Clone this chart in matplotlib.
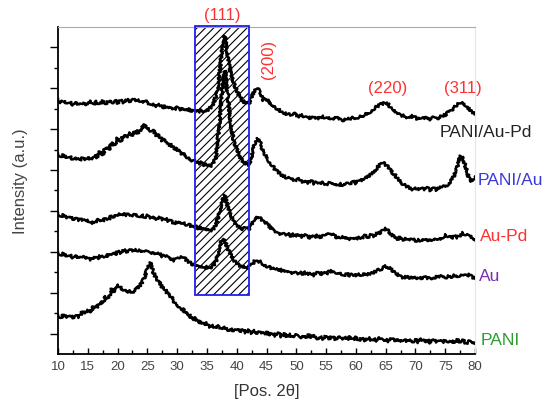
import matplotlib
matplotlib.use('Agg')
import matplotlib.pyplot as plt
import matplotlib.patches as mpatches
from matplotlib.ticker import MultipleLocator, FixedLocator
import numpy as np

plt.rcParams['font.family'] = ['Liberation Sans', 'DejaVu Sans']
plt.rcParams['hatch.linewidth'] = 0.8

# 2theta sampling (0.5 deg steps)
two_theta = np.arange(10, 80.01, 0.5)

# stacked XRD patterns, offset intensities (a.u.)
pani = [9.5, 9.0, 9.6, 9.1, 9.4, 8.9, 9.5, 9.0, 10.1, 10.0,
        10.7, 10.4, 11.7, 11.3, 12.7, 12.4, 14.1, 13.6, 15.9, 15.2,
        17.0, 16.2, 15.8, 15.0, 15.6, 15.0, 15.8, 16.2, 17.3, 18.7,
        21.0, 22.3, 20.0, 18.4, 17.8, 16.2, 15.7, 14.5, 14.1, 12.8,
        12.2, 11.1, 10.9, 9.8, 9.6, 8.6, 8.7, 7.7, 8.0, 7.1,
        7.5, 6.6, 7.0, 6.2, 6.8, 6.0, 6.5, 5.8, 6.3, 5.6,
        6.1, 5.5, 5.9, 5.3, 5.8, 5.1, 5.7, 5.0, 5.6, 4.9,
        5.3, 4.6, 5.1, 4.5, 5.0, 4.3, 4.9, 4.2, 4.8, 4.1,
        4.6, 4.0, 4.5, 3.9, 4.6, 4.2, 4.4, 3.8, 4.3, 3.7,
        4.4, 3.8, 4.3, 3.6, 4.2, 3.7, 4.1, 3.5, 4.2, 3.6,
        4.0, 3.4, 3.9, 3.3, 4.0, 3.4, 3.8, 3.2, 3.9, 3.3,
        3.7, 3.1, 3.8, 3.2, 3.7, 3.0, 3.6, 3.1, 3.7, 3.0,
        3.5, 2.9, 3.6, 3.0, 3.4, 2.8, 3.5, 2.9, 3.3, 2.7,
        3.4, 2.8, 3.2, 2.6, 3.5, 2.7, 3.3, 2.6, 3.1, 2.5,
        2.8]

au = [24.9, 24.3, 24.6, 23.9, 24.2, 23.6, 24.0, 23.4, 23.9, 23.3,
      23.6, 23.1, 23.8, 23.3, 24.0, 23.6, 24.2, 24.0, 24.7, 24.3,
      25.1, 24.8, 25.5, 25.0, 25.6, 25.1, 25.7, 25.2, 25.4, 24.9,
      25.3, 24.8, 24.9, 24.4, 24.5, 23.9, 24.1, 23.5, 23.4, 22.9,
      23.3, 23.6, 23.8, 23.0, 22.5, 22.0, 21.8, 21.3, 21.6, 21.0,
      21.3, 20.9, 21.5, 22.6, 25.6, 28.0, 27.6, 25.8, 24.2, 23.0,
      22.1, 21.6, 21.4, 21.1, 21.3, 21.7, 22.7, 22.6, 22.6, 21.9,
      21.5, 21.3, 20.8, 20.9, 20.4, 20.6, 20.1, 20.3, 19.8, 20.1,
      19.7, 20.0, 19.6, 19.9, 19.4, 19.7, 19.3, 19.8, 19.5, 19.9,
      19.6, 20.2, 20.4, 19.8, 19.4, 19.7, 19.3, 19.6, 19.2, 19.5,
      19.1, 19.6, 19.3, 19.7, 19.4, 19.9, 20.0, 20.4, 20.6, 21.0,
      21.5, 21.1, 20.6, 19.9, 19.5, 18.9, 18.7, 19.0, 18.6, 18.9,
      18.4, 18.8, 18.5, 18.9, 18.4, 18.7, 18.5, 18.9, 18.8, 19.1,
      18.7, 19.0, 18.8, 19.2, 19.0, 19.3, 19.6, 19.1, 19.4, 18.8,
      18.4]

au_pd = [34.4, 33.8, 34.0, 33.4, 33.6, 33.0, 33.3, 32.7, 33.0, 32.4,
         32.6, 32.0, 32.3, 32.6, 32.9, 32.5, 33.3, 33.0, 33.8, 33.5,
         34.3, 33.9, 34.5, 34.0, 34.2, 33.7, 34.2, 33.6, 34.0, 33.5,
         33.8, 33.3, 33.6, 33.0, 33.4, 32.8, 33.1, 32.6, 32.5, 32.0,
         32.3, 31.8, 32.1, 31.6, 31.6, 31.1, 31.3, 30.8, 30.9, 30.4,
         30.7, 30.2, 30.5, 31.4, 34.1, 37.3, 38.8, 35.9, 33.9, 32.4,
         31.5, 30.9, 30.6, 30.8, 30.4, 31.7, 33.2, 33.6, 33.2, 32.3,
         32.0, 31.2, 30.5, 30.0, 29.4, 29.6, 29.2, 29.5, 28.9, 29.2,
         28.8, 29.2, 28.7, 29.0, 28.4, 28.8, 28.6, 29.0, 28.6, 29.1,
         28.9, 29.6, 29.4, 28.8, 28.3, 28.7, 28.3, 28.6, 28.1, 28.5,
         28.2, 28.6, 28.4, 28.9, 28.6, 29.1, 28.9, 29.4, 29.6, 30.2,
         30.7, 30.0, 29.2, 28.7, 28.2, 28.5, 28.0, 28.3, 27.8, 28.1,
         27.7, 28.0, 27.6, 28.0, 27.7, 28.1, 27.8, 28.2, 28.0, 28.4,
         29.3, 28.8, 28.4, 28.8, 28.5, 29.0, 29.6, 29.1, 29.0, 28.3,
         27.8]

pani_au = [49.0, 48.4, 48.7, 48.0, 48.3, 47.6, 47.9, 47.4, 47.8, 47.5,
           48.1, 47.6, 48.5, 48.2, 49.4, 48.8, 50.6, 49.9, 51.8, 51.0,
           52.8, 52.0, 53.6, 52.9, 54.2, 53.3, 54.7, 53.9, 55.3, 56.0,
           55.2, 54.6, 54.6, 53.5, 53.4, 52.2, 52.4, 51.3, 51.1, 50.2,
           50.1, 49.2, 49.0, 48.3, 48.0, 47.3, 47.3, 46.6, 46.8, 46.2,
           46.4, 45.9, 46.5, 48.0, 54.6, 64.4, 69.3, 63.2, 55.9, 52.0,
           50.2, 48.3, 47.2, 46.7, 46.2, 48.4, 51.5, 52.7, 51.5, 49.2,
           48.2, 47.0, 46.1, 45.0, 44.4, 43.8, 43.4, 43.1, 42.9, 42.5,
           42.4, 42.8, 42.0, 42.3, 41.9, 42.3, 41.7, 42.0, 41.5, 41.9,
           41.5, 41.8, 41.4, 41.7, 41.2, 41.6, 41.2, 41.7, 41.7, 42.2,
           41.8, 42.6, 42.4, 43.2, 43.4, 44.1, 44.6, 45.4, 46.3, 46.8,
           46.3, 45.6, 44.6, 43.9, 42.9, 42.0, 41.5, 40.9, 40.7, 40.3,
           40.5, 40.1, 40.5, 40.2, 40.6, 40.1, 40.5, 40.2, 40.6, 40.8,
           41.0, 41.6, 42.4, 43.6, 45.6, 48.5, 47.8, 45.4, 42.9, 42.2,
           43.4]

pani_au_pd = [62.4, 61.6, 61.9, 61.3, 61.6, 61.0, 61.5, 60.9, 61.4, 60.8,
              61.3, 61.8, 61.2, 61.7, 61.2, 61.8, 61.3, 61.9, 61.4, 62.0,
              61.5, 62.1, 61.6, 62.3, 61.8, 62.4, 61.9, 62.3, 61.6, 62.1,
              61.4, 61.0, 61.2, 60.6, 60.9, 60.3, 60.6, 60.0, 60.4, 59.9,
              60.3, 59.7, 60.1, 59.5, 59.9, 59.3, 59.7, 59.2, 59.6, 59.4,
              59.6, 60.2, 60.7, 63.2, 66.8, 74.1, 77.8, 72.9, 68.8, 66.3,
              64.4, 62.9, 62.0, 61.3, 61.0, 63.0, 64.6, 64.9, 63.9, 62.0,
              62.4, 61.4, 61.0, 60.2, 59.8, 59.3, 59.0, 58.6, 58.5, 58.9,
              58.5, 58.1, 58.4, 57.9, 58.0, 57.6, 58.1, 57.7, 57.8, 58.2,
              57.6, 57.9, 57.4, 57.9, 57.6, 57.2, 57.3, 57.7, 57.3, 57.8,
              57.6, 58.1, 58.0, 58.6, 58.8, 59.4, 60.0, 60.5, 61.0, 61.2,
              61.5, 61.0, 59.8, 59.3, 58.8, 58.2, 58.3, 57.8, 57.8, 58.2,
              57.8, 57.4, 57.8, 57.5, 57.9, 57.4, 57.8, 57.5, 57.9, 58.3,
              58.5, 59.1, 59.5, 60.3, 61.0, 61.5, 61.2, 60.7, 60.0, 59.3,
              58.8]

series = [pani, au, au_pd, pani_au, pani_au_pd]
names = ['PANI', 'Au', 'Au-Pd', 'PANI/Au', 'PANI/Au-Pd']
name_colors = ['#2e9e2e', '#7a2fa6', '#ff3030', '#3a3ad8', '#222222']
# label anchor (2theta, a.u.)
name_pos = [(81.0, 3.2), (80.7, 19.0), (80.8, 28.8), (80.5, 42.4), (74.1, 54.1)]

# (hkl) reflections
hkl = ['(111)', '(200)', '(220)', '(311)']
hkl_pos = [(37.5, 82.7), (45.25, 72.0), (65.3, 64.9), (78.0, 64.9)]
hkl_rot = [0, 90, 0, 0]

box_x = (33.0, 42.0)
box_y = (14.4, 80.3)

fig = plt.figure(figsize=(5.51, 4.03), dpi=100)
ax = fig.add_axes([0.1053, 0.1216, 0.7568, 0.8114])

# hatched region around (111)
hatch = mpatches.Rectangle((box_x[0], box_y[0]), box_x[1] - box_x[0], box_y[1] - box_y[0],
                           facecolor='white', edgecolor='black', hatch='////', linewidth=0,
                           clip_on=False, zorder=1)
ax.add_patch(hatch)
border = mpatches.Rectangle((box_x[0], box_y[0]), box_x[1] - box_x[0], box_y[1] - box_y[0],
                            facecolor='none', edgecolor='#2020ee', linewidth=1.3,
                            clip_on=False, zorder=4)
ax.add_patch(border)

# raw-scan look: jagged rendering of the traces
for s in series:
    ln, = ax.plot(two_theta, s, color='black', linewidth=1.8, zorder=3)
    ln.set_sketch_params(scale=1.3, length=2.5, randomness=3)

for n, c, (px, py) in zip(names, name_colors, name_pos):
    ax.text(px, py, n, color=c, fontsize=12.5, ha='left', va='center', clip_on=False)

for t, (px, py), r in zip(hkl, hkl_pos, hkl_rot):
    ax.text(px, py, t, color='#ff3030', fontsize=12, ha='center', va='center',
            rotation=r, clip_on=False)

ax.set_xlim(10, 80)
ax.set_ylim(0, 80)
ax.xaxis.set_major_locator(MultipleLocator(5))
ax.xaxis.set_minor_locator(MultipleLocator(2.5))
ax.yaxis.set_major_locator(FixedLocator([5, 15, 25, 35, 45, 55, 65, 75]))
ax.yaxis.set_minor_locator(FixedLocator([10, 20, 30, 40, 50, 60, 70]))
ax.set_yticklabels([])

ax.tick_params(axis='x', which='major', direction='in', length=4, width=1, colors='black',
               labelcolor='#444444', labelsize=9.5, pad=5)
ax.tick_params(axis='x', which='minor', direction='in', length=3, width=1)
ax.tick_params(axis='y', which='major', direction='out', length=6, width=1)
ax.tick_params(axis='y', which='minor', direction='out', length=3, width=1)

ax.spines['left'].set_linewidth(1.3)
ax.spines['bottom'].set_linewidth(1.3)
ax.spines['top'].set_color('#aaaaaa')
ax.spines['top'].set_linewidth(0.8)
ax.spines['right'].set_color('#e6e6e6')
ax.spines['right'].set_linewidth(0.8)

ax.set_xlabel('[Pos. 2θ]', fontsize=12, color='#333333', labelpad=8)
ax.set_ylabel('Intensity (a.u.)', fontsize=12, color='#444444')
ax.yaxis.set_label_coords(-0.071, 0.53)

fig.savefig('out.png', dpi=100)
